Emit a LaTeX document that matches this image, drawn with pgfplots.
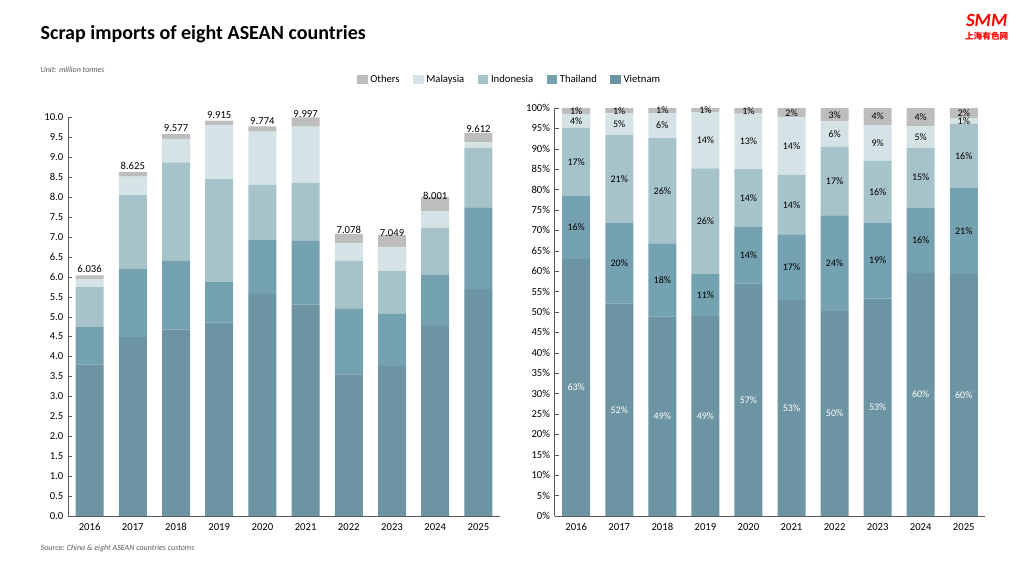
\documentclass[border=0pt]{standalone}
\usepackage{pgfplots}
\pgfplotsset{compat=1.18}
\usepackage{pgfplotstable}
\usepackage{fontspec}
\setmainfont{Carlito}
\newfontfamily\cjk{Noto Sans CJK SC}
\definecolor{cV}{HTML}{6C94A2}
\definecolor{cT}{HTML}{75A2B0}
\definecolor{cI}{HTML}{A6C3CA}
\definecolor{cM}{HTML}{D5E3E6}
\definecolor{cO}{HTML}{BDBDBD}
\definecolor{ax}{HTML}{595959}
\pgfplotstableread{
x V T I M O tot
0 3.80 0.94 1.00 0.21 0.086 6.036
1 4.49 1.71 1.85 0.46 0.115 8.625
2 4.68 1.72 2.47 0.59 0.117 9.577
3 4.86 1.02 2.57 1.36 0.105 9.915
4 5.57 1.36 1.38 1.33 0.134 9.774
5 5.30 1.60 1.46 1.41 0.227 9.997
6 3.55 1.66 1.19 0.44 0.238 7.078
7 3.76 1.31 1.07 0.61 0.299 7.049
8 4.77 1.28 1.18 0.42 0.351 8.001
9 5.70 2.04 1.50 0.13 0.242 9.612
}\abs
\pgfplotstableread{
x V T I M O lV lT lI lM lO
0 62.96 15.57 16.57 3.48 1.42 63 16 17 4 1
1 52.06 19.83 21.45 5.33 1.33 52 20 21 5 1
2 48.86 17.96 25.79 6.16 1.23 49 18 26 6 1
3 49.0 10.3 25.9 13.7 1.1 49 11 26 14 1
4 57.0 13.9 14.1 13.6 1.4 57 14 14 13 1
5 53.0 16.0 14.6 14.1 2.3 53 17 14 14 2
6 50.2 23.5 16.8 6.2 3.3 50 24 17 6 3
7 53.3 18.6 15.2 8.7 4.2 53 19 16 9 4
8 59.6 16.0 14.7 5.2 4.5 60 16 15 5 4
9 59.3 21.2 15.6 1.4 2.5 60 21 16 1 2
}\pct
\begin{document}
\begin{tikzpicture}[x=1pt,y=1pt]
\path (0,0) rectangle (768,432);
\node[anchor=west,font=\fontsize{15}{16}\selectfont\bfseries] at (27,406) {Scrap imports of eight ASEAN countries};
\node[anchor=west,font=\fontsize{6}{7}\selectfont\itshape,text=ax] at (27,380) {Unit: million tonnes};
\node[anchor=west,font=\fontsize{6}{7}\selectfont\itshape,text=ax] at (27,21) {Source: China \& eight ASEAN countries customs};
\node[font=\fontsize{14}{14}\selectfont\bfseries\itshape,text=red] at (740,417) {SMM};
\node[font=\fontsize{6.5}{7}\selectfont\cjk\bfseries,text=red] at (740,405) {上海有色网};
\pgfplotsset{
  base/.style={scale only axis, ybar stacked, bar width=21pt,
    xmin=-0.5,xmax=9.5, xtick={0,...,9},
    xticklabels={2016,2017,2018,2019,2020,2021,2022,2023,2024,2025},
    axis x line*=bottom, axis y line*=left, axis line style={ax},
    tick style={ax}, major tick length=3pt,
    xtick style={draw=none},
    ticklabel style={font=\fontsize{8}{9}\selectfont, text=black},
    xticklabel style={text height=1.6ex, text depth=0pt},
    /pgf/number format/assume math mode=true,
    every axis plot/.append style={draw=none}},
}
\begin{axis}[base, at={(51pt,45pt)}, anchor=south west, width=324pt, height=299pt,
  ymin=0, ymax=10, ytick={0,0.5,...,10},
  yticklabel={\pgfmathprintnumber[fixed,fixed zerofill,precision=1]{\tick}},
  reverse legend, legend columns=5,
  legend style={at={(1.023,1.093)}, anchor=center, draw=none, font=\fontsize{8}{9}\selectfont,
    /tikz/every even column/.append style={column sep=8pt}},
  legend image code/.code={\fill[#1] (0,-3pt) rectangle (8pt,4pt);}]
\addplot[fill=cV] table[x=x,y=V]{\abs};
\addplot[fill=cT] table[x=x,y=T]{\abs};
\addplot[fill=cI] table[x=x,y=I]{\abs};
\addplot[fill=cM] table[x=x,y=M]{\abs};
\addplot[fill=cO, nodes near coords={\pgfmathprintnumber[fixed,fixed zerofill,precision=3]{\pgfplotspointmeta}},
  point meta=explicit, every node near coord/.style={font=\fontsize{8}{9}\selectfont, anchor=south, text=black}]
  table[x=x,y=O,meta=tot]{\abs};
\legend{Vietnam,Thailand,Indonesia,Malaysia,Others}
\end{axis}
\begin{axis}[base, at={(416pt,45pt)}, anchor=south west, width=323pt, height=306pt,
  ymin=0, ymax=100, ytick={0,5,...,100},
  yticklabel={\pgfmathprintnumber{\tick}\%},
  nodes near coords={\pgfmathprintnumber{\pgfplotspointmeta}\%}, point meta=explicit,
  every node near coord/.style={font=\fontsize{7.5}{8}\selectfont, anchor=center, text=black},
  nodes near coords align=center]
\addplot[fill=cV, every node near coord/.append style={text=white}] table[x=x,y=V,meta=lV]{\pct};
\addplot[fill=cT] table[x=x,y=T,meta=lT]{\pct};
\addplot[fill=cI] table[x=x,y=I,meta=lI]{\pct};
\addplot[fill=cM] table[x=x,y=M,meta=lM]{\pct};
\addplot[fill=cO] table[x=x,y=O,meta=lO]{\pct};
\end{axis}
\end{tikzpicture}
\end{document}
